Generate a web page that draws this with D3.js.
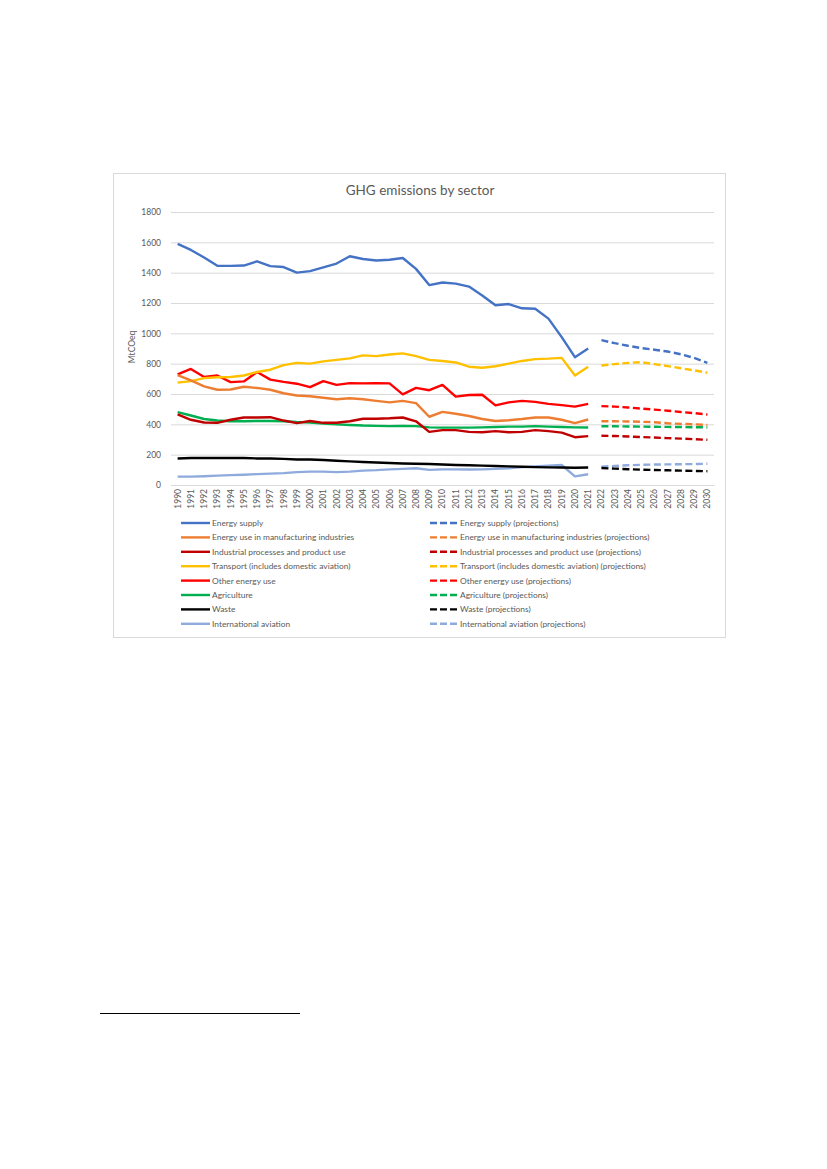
<!DOCTYPE html>
<html>
<head>
<meta charset="utf-8">
<script src="https://cdn.jsdelivr.net/npm/d3@7"></script>
<style>
  body { margin: 0; background: #fff; }
  text { font-family: Lato, "Open Sans", sans-serif; fill: #595959; }
</style>
</head>
<body>
<script>
// years on the category axis
const histYears = d3.range(1990, 2022).map(String);
const projYears = d3.range(2022, 2031).map(String);
const allYears = histYears.concat(projYears);
const yTicks = [0, 200, 400, 600, 800, 1000, 1200, 1400, 1600, 1800];

// series values (MtCO2eq)
const energySupply = [1590, 1550, 1500, 1445, 1445, 1447, 1475, 1443, 1437, 1400, 1410, 1435, 1460, 1508, 1490, 1480, 1485, 1497, 1425, 1318, 1335, 1328, 1308, 1250, 1185, 1193, 1165, 1162, 1097, 975, 843, 900];
const energySupplyProj = [955, 935, 918, 903, 892, 880, 862, 838, 806];
const manufacturing = [725, 690, 650, 628, 630, 648, 640, 628, 605, 590, 585, 575, 565, 572, 565, 555, 545, 555, 540, 450, 482, 470, 455, 435, 422, 427, 435, 445, 445, 430, 408, 432];
const manufacturingProj = [420, 420, 419, 417, 414, 407, 403, 400, 396];
const industrial = [465, 430, 412, 410, 430, 445, 445, 447, 425, 408, 422, 410, 410, 420, 437, 437, 440, 445, 420, 350, 362, 362, 350, 348, 355, 348, 350, 362, 355, 345, 315, 322];
const industrialProj = [325, 323, 320, 316, 313, 309, 306, 302, 298];
const transport = [675, 685, 705, 710, 712, 722, 745, 760, 790, 805, 800, 815, 825, 835, 855, 850, 860, 868, 850, 825, 818, 808, 780, 773, 783, 800, 818, 830, 833, 838, 722, 780];
const transportProj = [788, 797, 805, 810, 797, 784, 770, 756, 740];
const otherEnergy = [730, 765, 712, 722, 678, 683, 745, 695, 680, 668, 645, 685, 660, 672, 670, 672, 670, 598, 640, 625, 660, 583, 593, 595, 525, 545, 555, 548, 535, 527, 517, 535];
const otherEnergyProj = [520, 517, 511, 504, 497, 490, 481, 474, 465];
const agriculture = [480, 458, 435, 425, 420, 420, 422, 422, 420, 415, 412, 405, 400, 396, 392, 390, 388, 390, 388, 380, 378, 378, 378, 380, 382, 385, 385, 388, 385, 382, 380, 379];
const agricultureProj = [387, 387, 386, 385, 384, 383, 382, 381, 380];
const waste = [175, 178, 178, 178, 178, 178, 175, 175, 172, 168, 168, 165, 160, 156, 152, 148, 145, 142, 140, 138, 135, 132, 130, 128, 125, 123, 120, 118, 116, 115, 114, 115];
const wasteProj = [112, 108, 104, 101, 99, 97, 95, 93, 91];
const intlAviation = [55, 55, 58, 62, 65, 68, 72, 75, 78, 85, 88, 88, 85, 88, 95, 98, 103, 106, 110, 100, 103, 103, 102, 103, 106, 110, 118, 123, 128, 132, 57, 71];
const intlAviationProj = [120, 126, 130, 133, 135, 136, 137, 138, 140];

const seriesNames = ["Energy supply", "Energy use in manufacturing industries", "Industrial processes and product use",
  "Transport (includes domestic aviation)", "Other energy use", "Agriculture", "Waste", "International aviation"];
const seriesColors = ["#4472C4", "#ED7D31", "#C00000", "#FFC000", "#FF0000", "#00B050", "#000000", "#8FAADC"];
const histValues = [energySupply, manufacturing, industrial, transport, otherEnergy, agriculture, waste, intlAviation];
const projValues = [energySupplyProj, manufacturingProj, industrialProj, transportProj, otherEnergyProj, agricultureProj, wasteProj, intlAviationProj];

const svg = d3.select("body").append("svg")
    .attr("width", 827)
    .attr("height", 1169);

// chart frame
svg.append("rect")
    .attr("x", 113.5).attr("y", 173.5)
    .attr("width", 612).attr("height", 464)
    .attr("fill", "#fff")
    .attr("stroke", "#d9d9d9");

const plot = {left: 171, right: 714, top: 212, bottom: 485};

const x = d3.scaleBand()
    .domain(allYears)
    .range([plot.left, plot.right]);
const y = d3.scaleLinear()
    .domain([0, 1800])
    .range([plot.bottom, plot.top]);

// title
svg.append("text")
    .attr("x", 420).attr("y", 195)
    .attr("text-anchor", "middle")
    .style("font-size", "13.5px")
    .text("GHG emissions by sector");

// gridlines
svg.append("g")
    .attr("transform", `translate(${plot.left},0)`)
    .call(d3.axisLeft(y).tickValues(yTicks).tickSize(-(plot.right - plot.left)).tickFormat(""))
    .call(g => g.select(".domain").remove())
    .call(g => g.selectAll("line").attr("stroke", "#d9d9d9"));

// y axis labels
svg.append("g")
    .attr("transform", `translate(${plot.left},0)`)
    .call(d3.axisLeft(y).tickValues(yTicks).tickFormat(d3.format("d")).tickSize(0).tickPadding(10))
    .call(g => g.select(".domain").remove())
    .call(g => g.selectAll("text").style("font-size", "8.5px").style("font-family", "Lato, sans-serif").attr("fill", "#595959"));

svg.append("text")
    .attr("transform", "translate(135,347) rotate(-90)")
    .attr("text-anchor", "middle")
    .style("font-size", "8.5px")
    .text("MtCOeq");

// x axis
svg.append("g")
    .attr("transform", `translate(0,${plot.bottom})`)
    .call(d3.axisBottom(x).tickSize(0))
    .call(g => g.select(".domain").attr("stroke", "#d9d9d9"))
    .call(g => g.selectAll("text")
        .attr("transform", "rotate(-90)")
        .attr("x", -4).attr("y", 0).attr("dy", "0.35em")
        .style("text-anchor", "end")
        .style("font-size", "8.5px")
        .style("font-family", "Lato, sans-serif")
        .attr("fill", "#595959"));

const line = d3.line()
    .x(d => x(d.year) + x.bandwidth() / 2)
    .y(d => y(d.value));

// series, last one drawn first so energy supply sits on top
for (let i = seriesNames.length - 1; i >= 0; i--) {
  const hist = histYears.map((yr, j) => ({year: yr, value: histValues[i][j]}));
  const proj = projYears.map((yr, j) => ({year: yr, value: projValues[i][j]}));
  svg.append("path")
      .datum(hist)
      .attr("fill", "none")
      .attr("stroke", seriesColors[i])
      .attr("stroke-width", 2.4)
      .attr("stroke-linejoin", "round")
      .attr("d", line);
  svg.append("path")
      .datum(proj)
      .attr("fill", "none")
      .attr("stroke", seriesColors[i])
      .attr("stroke-width", 2.4)
      .attr("stroke-dasharray", "7,3.5")
      .attr("d", line);
}

// legend
const legend = svg.append("g");
seriesNames.forEach((name, i) => {
  const ly = 523 + i * 14.4;
  legend.append("line")
      .attr("x1", 181).attr("x2", 210)
      .attr("y1", ly).attr("y2", ly)
      .attr("stroke", seriesColors[i]).attr("stroke-width", 2.4);
  legend.append("text")
      .attr("x", 212).attr("y", ly).attr("dy", "0.35em")
      .style("font-size", "8.4px")
      .text(name);
  legend.append("line")
      .attr("x1", 430).attr("x2", 457)
      .attr("y1", ly).attr("y2", ly)
      .attr("stroke", seriesColors[i]).attr("stroke-width", 2.4)
      .attr("stroke-dasharray", "7,3");
  legend.append("text")
      .attr("x", 460).attr("y", ly).attr("dy", "0.35em")
      .style("font-size", "8.4px")
      .text(name + " (projections)");
});

// footnote separator on the page
svg.append("line")
    .attr("x1", 100).attr("x2", 300)
    .attr("y1", 1013.5).attr("y2", 1013.5)
    .attr("stroke", "#000").attr("stroke-width", 1);
</script>
</body>
</html>
